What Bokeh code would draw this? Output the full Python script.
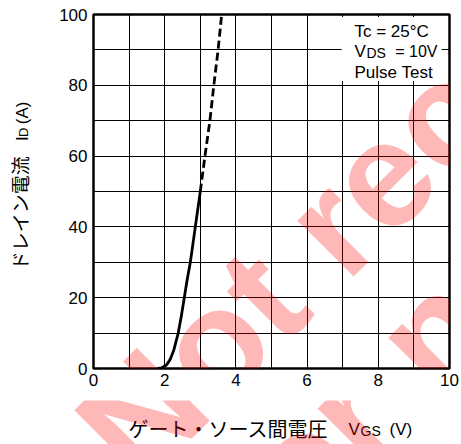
import math
from bokeh.plotting import figure
from bokeh.models import Label, Range1d, SingleIntervalTicker, BoxAnnotation
from bokeh.layouts import column, row
from bokeh.embed import file_html
from bokeh.resources import INLINE

# ---- data ----
vgs_solid = [1.80, 1.92, 2.05, 2.15, 2.25, 2.38, 2.47, 2.55, 2.63, 2.72, 2.79, 2.86, 2.93, 3.00]
id_solid = [0.0, 0.2, 1.0, 2.5, 5.0, 10.0, 15.0, 20.0, 25.0, 30.0, 35.0, 40.0, 45.0, 50.0]
vgs_dash = [3.00, 3.13, 3.27, 3.38, 3.50, 3.60]
id_dash = [50.0, 60.0, 70.0, 80.0, 90.0, 100.0]

x_label_jp = "ゲート・ソース間電圧"
y_label_jp = "ドレイン電流"
cond_lines = ["Tc = 25°C", "V", "DS", "= 10V", "Pulse Test"]
watermark = ["Not recommended", "for new design"]

FONT = "Liberation Sans"
JP = "Noto Sans CJK JP"

W, H = 461, 444
LW, BH = 40, 44                      # left title strip width, bottom title strip height
FL, FT, FR, FB = 93, 14, 449, 368    # plot frame in picture pixels

# ---------------- main chart ----------------
p = figure(width=W - LW, height=H - BH, x_range=Range1d(0, 10), y_range=Range1d(0, 100),
           output_backend="svg", toolbar_location=None,
           min_border_left=FL - LW, min_border_right=W - FR, min_border_top=FT,
           min_border_bottom=H - BH - FB)
p.background_fill_color = "white"
p.border_fill_color = "white"
p.outline_line_color = "black"
p.outline_line_width = 2.5

xt = SingleIntervalTicker(interval=2, num_minor_ticks=2)
yt = SingleIntervalTicker(interval=20, num_minor_ticks=2)
p.xaxis.ticker = xt
p.yaxis.ticker = yt
p.xgrid.ticker = xt
p.ygrid.ticker = yt
for g in (p.xgrid, p.ygrid):
    g.grid_line_color = "black"
    g.grid_line_width = 1
    g.minor_grid_line_color = "black"
    g.minor_grid_line_width = 1
for ax in (p.xaxis, p.yaxis):
    ax.axis_line_color = None
    ax.major_tick_line_color = None
    ax.minor_tick_line_color = None
    ax.major_tick_out = 0
    ax.major_tick_in = 0
    ax.minor_tick_out = 0
    ax.minor_tick_in = 0
    ax.major_label_text_font = FONT
    ax.major_label_text_font_size = "17px"
    ax.major_label_text_color = "black"
p.yaxis.major_label_standoff = 6
p.xaxis.major_label_standoff = 5

p.line(vgs_solid, id_solid, line_color="black", line_width=2.8, line_join="round")
p.line(vgs_dash, id_dash, line_color="black", line_width=2.8, line_dash="8 4")

# white background of the test-condition block
p.add_layout(BoxAnnotation(left=6.97, right=9.78, bottom=81.2, top=99.3,
                           fill_color="white", fill_alpha=1.0, line_color=None))


# ---------------- title strips ----------------
def strip(w, h):
    f = figure(width=w, height=h, x_range=Range1d(0, w), y_range=Range1d(0, h),
               output_backend="svg", toolbar_location=None,
               x_axis_location=None, y_axis_location=None, min_border=0)
    f.min_border_left = f.min_border_right = f.min_border_top = f.min_border_bottom = 0
    f.outline_line_color = None
    f.grid.visible = False
    f.background_fill_color = "white"
    f.border_fill_color = "white"
    return f

yf = strip(LW, H - BH)   # picture x 0..40, y 0..400
xf = strip(W, BH)        # picture x 0..461, y 400..444

targets = {"main": (p, FL, FB), "y": (yf, 0, H - BH), "x": (xf, 0, H)}


def lab(where, text, px, py, size, font=FONT, align="left", angle=0.0,
        color="black", alpha=1.0, style="normal"):
    fig, ox, oy = targets[where]
    if where == "main":
        kw = dict(x=0, y=0, x_offset=px - ox, y_offset=oy - py)
    else:
        kw = dict(x=px - ox, y=oy - py)
    fig.add_layout(Label(text=text, text_font=font, text_font_size=size,
                         text_color=color, text_alpha=alpha, text_font_style=style,
                         text_align=align, text_baseline="middle", angle=angle, **kw))


# test conditions
lab("main", cond_lines[0], 354, 31, "17px")
lab("main", cond_lines[1], 354, 51, "17px")
lab("main", cond_lines[2], 366, 52, "14px")
lab("main", cond_lines[3], 437, 51.4, "16px", align="right")
lab("main", cond_lines[4], 354, 72, "17px")

# x axis title
lab("x", x_label_jp, 128, 428, "20px", font=JP)
lab("x", "V", 348, 429, "17px")
lab("x", "GS", 360, 430, "14px")
lab("x", "(V)", 389, 429, "17px")

# y axis title (reads bottom to top)
r = math.pi / 2
lab("y", y_label_jp, 18.5, 224.5, "19px", font=JP, align="center", angle=r)
lab("y", "I", 22, 143, "17px", angle=r)
lab("y", "D", 23, 138.3, "13px", angle=r)
lab("y", "(A)", 22, 124, "17px", angle=r)

# watermark (semi-transparent red over every panel)
th = math.radians(45)
em = 150
u = (math.cos(th), -math.sin(th))
vup = (-math.sin(th), -math.cos(th))
s1 = (140, 490)
a1 = (s1[0] + 0.35 * em * vup[0], s1[1] + 0.35 * em * vup[1])
s2 = (s1[0] - 0.98 * em * vup[0] + 0.21 * em * u[0], s1[1] - 0.98 * em * vup[1] + 0.21 * em * u[1])
a2 = (s2[0] + 0.35 * em * vup[0], s2[1] + 0.35 * em * vup[1])
for where in ("main", "y", "x"):
    lab(where, watermark[0], a1[0], a1[1], f"{em}px", angle=th, color="red", alpha=0.28, style="bold")
    lab(where, watermark[1], a2[0], a2[1], f"{em}px", angle=th, color="red", alpha=0.28, style="bold")

layout = column(row(yf, p), xf)
open("out.html", "w").write(file_html(layout, INLINE))
